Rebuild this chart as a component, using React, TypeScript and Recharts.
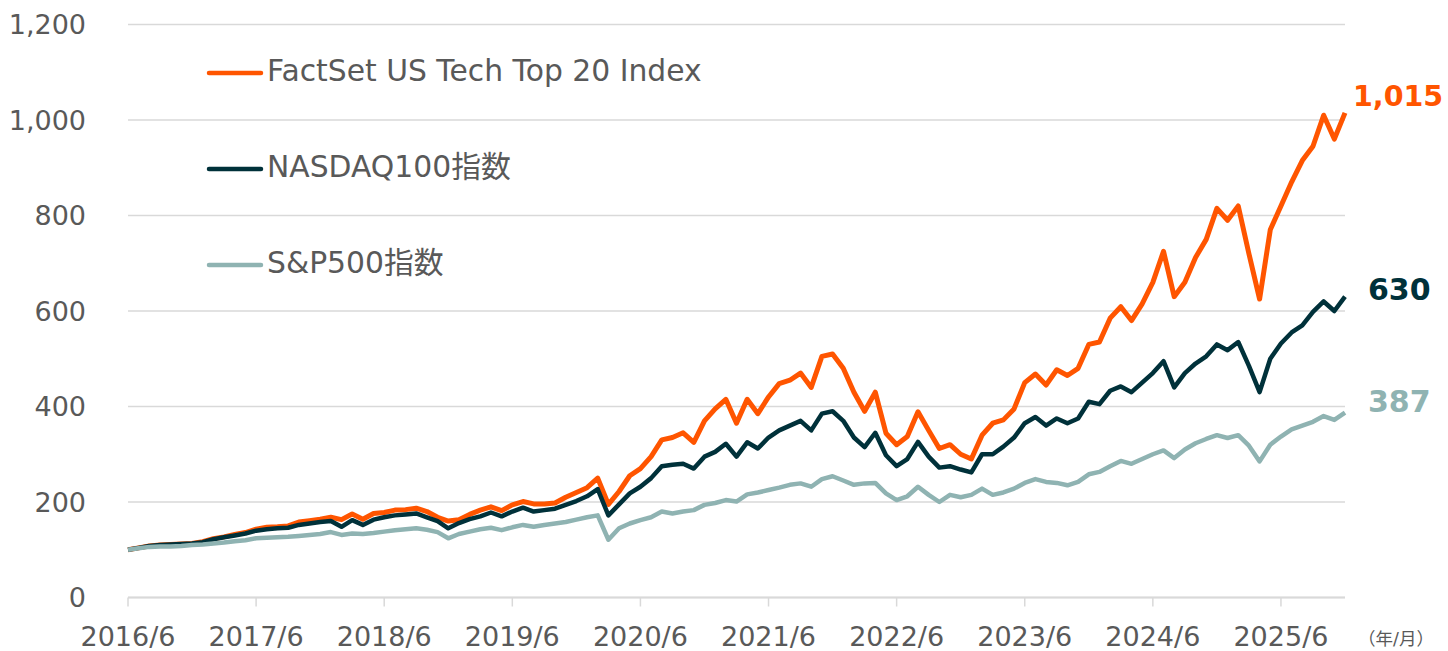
import React from "react";
import { LineChart, Line, XAxis, YAxis, CartesianGrid } from "recharts";

// monthly points, 2016/6 .. 2025/12 (indexed, 2016/6 = 100, yen basis)
const factsetValues = [
  100, 104, 108, 110, 111, 112, 113, 117, 123, 127,
  132, 136, 143, 147, 148, 150, 158, 161, 164, 168,
  163, 175, 164, 176, 178, 183, 184, 187, 180, 168,
  160, 163, 174, 183, 190, 182, 194, 201, 196, 196,
  198, 210, 220, 230, 250, 195, 222, 255, 270, 295,
  330, 335, 345, 325, 370, 395, 415, 365, 415, 385,
  420, 448, 455, 470, 440, 505, 510, 480, 430, 390,
  430, 344, 320, 337, 389, 350, 312, 320, 300, 290,
  340, 365, 372, 395, 450, 468, 445, 477, 465, 480,
  530, 535, 585, 609, 580, 615, 660, 725, 630, 660,
  712, 750, 815, 790, 820, 720, 625, 770, 820, 870,
  915, 945, 1010, 960, 1015,
];

const nasdaqValues = [
  100, 104, 108, 110, 111, 112, 113, 116, 122, 126,
  130, 134, 140, 143, 145, 146, 152, 155, 158, 160,
  148, 162, 152, 163, 168, 172, 174, 176, 168, 160,
  145, 156, 164, 170, 178, 170, 180, 188, 180, 183,
  186, 194, 202, 212, 227, 172, 195, 218, 232, 250,
  275, 278, 280, 270, 295, 305, 322, 295, 325, 312,
  335, 350, 360, 370, 350, 385, 390, 370, 335, 315,
  345, 298, 275, 290, 326, 295, 272, 275, 268, 262,
  300, 300, 316, 335, 365, 378, 360, 375, 365, 375,
  410, 405, 433, 442, 430, 450, 470, 495, 440, 470,
  490, 505, 530, 518, 535, 485, 430, 500, 532, 555,
  570, 598, 620, 600, 630,
];

const sp500Values = [
  100, 103, 106, 107, 107, 108, 110, 111, 113, 115,
  118, 120, 124, 125, 126, 127, 129, 131, 133, 137,
  131, 134, 133, 135, 138, 141, 143, 145, 142, 137,
  124, 133, 138, 143, 146, 141, 147, 152, 148, 152,
  155, 158, 163, 168, 172, 121, 145, 155, 162, 168,
  180, 176, 180, 183, 194, 198, 204, 201, 216, 220,
  225, 230, 236, 239, 232, 248, 254, 245, 236, 239,
  240, 218, 204, 212, 232, 215, 200, 215, 210, 215,
  228, 215, 220, 228, 240, 248, 242, 240, 235, 242,
  258, 263, 275, 286, 280, 290, 300, 308, 292, 310,
  323, 332, 340, 334, 340, 318, 285, 320, 337, 352,
  360, 368, 380, 372, 387,
];

const tickLabels = [
  "2016/6", "2017/6", "2018/6", "2019/6", "2020/6",
  "2021/6", "2022/6", "2023/6", "2024/6", "2025/6",
];
const yTicks = [0, 200, 400, 600, 800, 1000, 1200];

const months = factsetValues.map((_, i) => {
  const t = 5 + i;
  return `${2016 + Math.floor(t / 12)}/${(t % 12) + 1}`;
});

const data = months.map((month, i) => ({
  month,
  factset: factsetValues[i],
  nasdaq: nasdaqValues[i],
  sp500: sp500Values[i],
}));

const FONT = "'DejaVu Sans', 'Noto Sans CJK JP', sans-serif";
const ORANGE = "#ff5500";
const DARK = "#00313a";
const LIGHT = "#8fb3b2";

const series = [
  { key: "factset", name: "FactSet US Tech Top 20 Index", color: ORANGE, width: 5, dx: 8, dy: -16, size: 28.5 },
  { key: "nasdaq", name: "NASDAQ100指数", color: DARK, width: 4.5, dx: 23, dy: -7, size: 30 },
  { key: "sp500", name: "S&P500指数", color: LIGHT, width: 4.5, dx: 23, dy: -11, size: 30 },
];

const endLabel = (s: (typeof series)[number]) => (props: any) => {
  const { x, y, index, value } = props;
  if (index !== data.length - 1) return null;
  return (
    <text
      x={x + s.dx}
      y={y + s.dy}
      fill={s.color}
      fontSize={s.size}
      fontWeight="bold"
      fontFamily={FONT}
      textAnchor="start"
      dominantBaseline="central"
    >
      {Number(value).toLocaleString("en-US")}
    </text>
  );
};

export default function App() {
  // draw order: orange underneath, grey on top
  return (
    <div style={{ position: "absolute", left: 0, top: 0, width: 1448, height: 651, background: "#fff" }}>
      <LineChart
        width={1448}
        height={651}
        data={data}
        margin={{ top: 24.5, right: 103, bottom: 0, left: 0 }}
        style={{ fontFamily: FONT }}
      >
        <CartesianGrid vertical={false} stroke="#d9d9d9" strokeWidth={1.5} />
        <XAxis
          dataKey="month"
          ticks={tickLabels}
          interval={0}
          height={53.5}
          axisLine={{ stroke: "#d9d9d9", strokeWidth: 2 }}
          tickLine={{ stroke: "#d9d9d9", strokeWidth: 1.5 }}
          tickSize={9}
          tickMargin={20}
          tick={{ fill: "#595959", fontSize: 27, fontFamily: FONT }}
        />
        <YAxis
          width={128}
          domain={[0, 1200]}
          ticks={yTicks}
          interval={0}
          axisLine={false}
          tickLine={false}
          tickSize={0}
          tickMargin={42}
          tickFormatter={(v: number) => v.toLocaleString("en-US")}
          tick={{ fill: "#595959", fontSize: 27, fontFamily: FONT }}
        />
        {series.map((s) => (
          <Line
            key={s.key}
            type="linear"
            dataKey={s.key}
            stroke={s.color}
            strokeWidth={s.width}
            strokeLinejoin="round"
            dot={false}
            activeDot={false}
            isAnimationActive={false}
            label={endLabel(s)}
          />
        ))}
      </LineChart>
      <svg
        width={1448}
        height={651}
        style={{ position: "absolute", left: 0, top: 0, pointerEvents: "none" }}
      >
        {series.map((s, i) => (
          <g key={s.key}>
            <line
              x1={209}
              x2={261}
              y1={73 + i * 96}
              y2={73 + i * 96}
              stroke={s.color}
              strokeWidth={4.5}
              strokeLinecap="round"
            />
            <text x={267} y={80.5 + i * 96} fill="#595959" fontSize={29.8} fontFamily={FONT}>
              {s.name}
            </text>
          </g>
        ))}
        <text x={1358} y={645} fill="#595959" fontSize={17.5} fontFamily={FONT}>
          （年/月）
        </text>
      </svg>
    </div>
  );
}
